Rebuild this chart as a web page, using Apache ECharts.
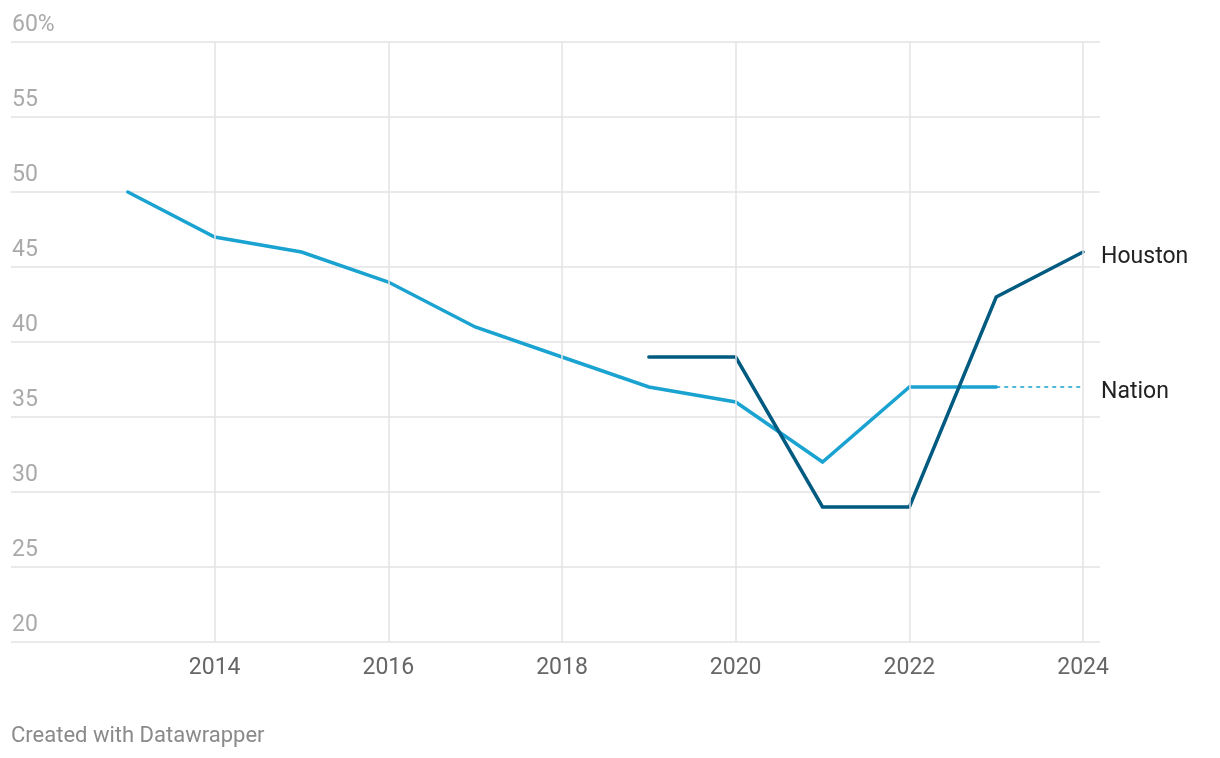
<!DOCTYPE html>
<html>
<head>
<meta charset="utf-8">
<script src="https://cdn.jsdelivr.net/npm/echarts@6/dist/echarts.min.js"></script>
<style>
html,body{margin:0;padding:0;background:#fff;}
#chart{width:1220px;height:758px;}
</style>
</head>
<body>
<div id="chart"></div>
<script>
const nationYears = [2013, 2014, 2015, 2016, 2017, 2018, 2019, 2020, 2021, 2022, 2023];
const nationValues = [50, 47, 46, 44, 41, 39, 37, 36, 32, 37, 37];
const nationProjYears = [2023, 2024];
const nationProjValues = [37, 37];
const houstonYears = [2019, 2020, 2021, 2022, 2023, 2024];
const houstonValues = [39, 39, 29, 29, 43, 46];
const xTickLabels = [2014, 2016, 2018, 2020, 2022, 2024];
const yTickValues = [20, 25, 30, 35, 40, 45, 50, 55, 60];

const pair = (xs, ys) => xs.map((x, i) => [x, ys[i]]);
const FONT = 'Roboto';

const chart = echarts.init(document.getElementById('chart'), null, {renderer: 'canvas'});
chart.setOption({
  backgroundColor: '#ffffff',
  animation: false,
  textStyle: {fontFamily: FONT},
  grid: {left: 11, right: 120, top: 42, bottom: 116, containLabel: false},
  xAxis: {
    type: 'value',
    min: 2011.655,
    max: 2024.195,
    axisLine: {show: false},
    axisTick: {show: false, customValues: xTickLabels},
    splitLine: {show: false},
    axisLabel: {
      customValues: xTickLabels,
      color: '#666666',
      fontSize: 23,
      fontFamily: FONT,
      margin: 15,
      formatter: v => String(v)
    }
  },
  yAxis: {
    type: 'value',
    min: 20,
    max: 60,
    interval: 5,
    axisLine: {show: false},
    axisTick: {show: false},
    splitLine: {show: true, lineStyle: {color: '#e3e3e3', width: 1.5}},
    axisLabel: {
      inside: true,
      margin: 1,
      align: 'left',
      verticalAlign: 'bottom',
      padding: [0, 0, 5, 0],
      color: '#aaaaaa',
      fontSize: 23,
      fontFamily: FONT,
      formatter: v => v === 60 ? v + '%' : String(v)
    }
  },
  graphic: [{
    type: 'text',
    left: 11,
    top: 725,
    style: {text: 'Created with Datawrapper', fill: '#8a8a8a', font: '22px Roboto'}
  }],
  series: [
    {
      name: 'grid',
      type: 'line',
      data: [],
      silent: true,
      markLine: {
        silent: true,
        symbol: 'none',
        label: {show: false},
        lineStyle: {color: '#e3e3e3', width: 1.5, type: 'solid'},
        data: xTickLabels.map(v => ({xAxis: v}))
      }
    },
    {
      name: 'Nation projection',
      type: 'line',
      data: pair(nationProjYears, nationProjValues),
      showSymbol: false,
      lineStyle: {color: '#1aa3d1', width: 1.5, type: [4, 4]},
      endLabel: {
        show: true,
        formatter: 'Nation',
        distance: 18,
        offset: [0, 5],
        color: '#222222',
        fontSize: 23,
        fontFamily: FONT
      },
      z: 2
    },
    {
      name: 'Nation',
      type: 'line',
      data: pair(nationYears, nationValues),
      showSymbol: false,
      lineStyle: {color: '#1aa3d1', width: 3.5, cap: 'round', join: 'miter'},
      z: 3
    },
    {
      name: 'Houston',
      type: 'line',
      data: pair(houstonYears, houstonValues),
      showSymbol: false,
      lineStyle: {color: '#015a80', width: 3.5, cap: 'round', join: 'miter'},
      endLabel: {
        show: true,
        formatter: 'Houston',
        distance: 18,
        offset: [0, 5],
        color: '#222222',
        fontSize: 23,
        fontFamily: FONT
      },
      z: 4
    }
  ]
});
</script>
</body>
</html>
